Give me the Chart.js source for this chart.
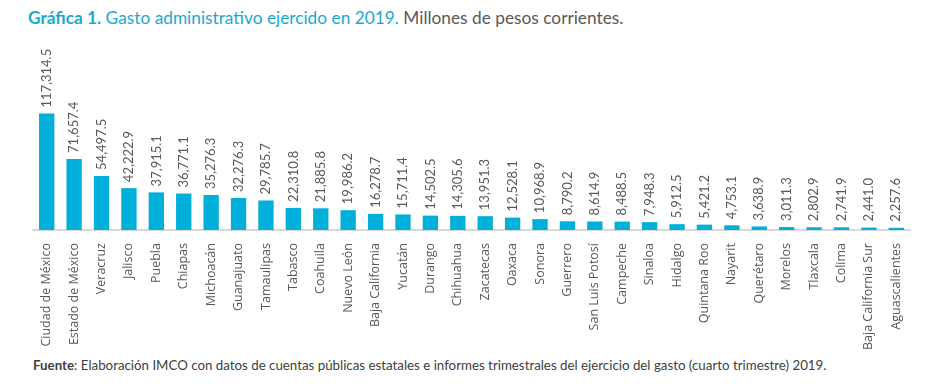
<!DOCTYPE html>
<html>
<head>
<meta charset="utf-8">
<script src="https://cdn.jsdelivr.net/npm/chart.js@4"></script>
<style>
  body { margin: 0; background: #fff; width: 935px; height: 386px; position: relative; overflow: hidden; font-family: Lato, "Open Sans", sans-serif; }
  #title { position: absolute; left: 28px; top: 7px; font-size: 17.3px; color: #595959; white-space: nowrap; }
  #title .a { color: #1aa9cf; }
  #title b { color: #1aa9cf; }
  #chartBox { position: absolute; left: 0; top: 40px; width: 935px; height: 315px; }
  #source { position: absolute; left: 33px; top: 357px; font-size: 13.3px; color: #404040; white-space: nowrap; }
</style>
</head>
<body>
<div id="title"><b>Gráfica 1.</b> <span class="a">Gasto administrativo ejercido en 2019.</span> Millones de pesos corrientes.</div>
<div id="chartBox"><canvas id="gastoChart"></canvas></div>
<div id="source"><b>Fuente</b>: Elaboración IMCO con datos de cuentas públicas estatales e informes trimestrales del ejercicio del gasto (cuarto trimestre) 2019.</div>
<script>
const estados = ['Ciudad de México', 'Estado de México', 'Veracruz', 'Jalisco', 'Puebla', 'Chiapas', 'Michoacán',
    'Guanajuato', 'Tamaulipas', 'Tabasco', 'Coahuila', 'Nuevo León', 'Baja California', 'Yucatán', 'Durango',
    'Chihuahua', 'Zacatecas', 'Oaxaca', 'Sonora', 'Guerrero', 'San Luis Potosí', 'Campeche', 'Sinaloa', 'Hidalgo',
    'Quintana Roo', 'Nayarit', 'Querétaro', 'Morelos', 'Tlaxcala', 'Colima', 'Baja California Sur', 'Aguascalientes'];
const gasto = [117314.5, 71657.4, 54497.5, 42222.9, 37915.1, 36771.1, 35276.3, 32276.3, 29785.7, 22310.8,
    21885.8, 19986.2, 16278.7, 15711.4, 14502.5, 14305.6, 13951.3, 12528.1, 10968.9, 8790.2, 8614.9, 8488.5,
    7948.3, 5912.5, 5421.2, 4753.1, 3638.9, 3011.3, 2802.9, 2741.9, 2441.0, 2257.6];

const fmt = v => v.toLocaleString('en-US', { minimumFractionDigits: 1, maximumFractionDigits: 1 });

// value labels, rotated, above each bar
const valueLabels = {
    id: 'valueLabels',
    afterDatasetsDraw(chart) {
        const ctx = chart.ctx;
        const meta = chart.getDatasetMeta(0);
        ctx.save();
        ctx.font = '13px Lato, "Open Sans", sans-serif';
        ctx.fillStyle = '#595959';
        ctx.textAlign = 'left';
        ctx.textBaseline = 'middle';
        meta.data.forEach((bar, i) => {
            ctx.save();
            ctx.translate(bar.x, bar.y - 6);
            ctx.rotate(-Math.PI / 2);
            ctx.fillText(fmt(gasto[i]), 0, 0);
            ctx.restore();
        });
        ctx.restore();
    }
};

const ctx = document.getElementById('gastoChart');
const myChart = new Chart(ctx, {
    type: 'bar',
    data: {
        labels: estados,
        datasets: [{
            data: gasto,
            backgroundColor: '#00b0da',
            categoryPercentage: 1,
            barPercentage: 0.56
        }]
    },
    options: {
        responsive: true,
        maintainAspectRatio: false,
        animation: false,
        layout: { padding: { left: 33, right: 25, top: 0, bottom: 0 } },
        plugins: {
            legend: { display: false },
            tooltip: { enabled: false }
        },
        scales: {
            x: {
                grid: { display: false },
                border: { color: '#d9d9d9', width: 2 },
                ticks: {
                    minRotation: 90,
                    maxRotation: 90,
                    autoSkip: false,
                    padding: 5,
                    color: '#595959',
                    font: { family: '"Open Sans", sans-serif', size: 12.5 }
                }
            },
            y: {
                display: false,
                min: 0,
                max: 191500
            }
        }
    },
    plugins: [valueLabels]
});
</script>
</body>
</html>
